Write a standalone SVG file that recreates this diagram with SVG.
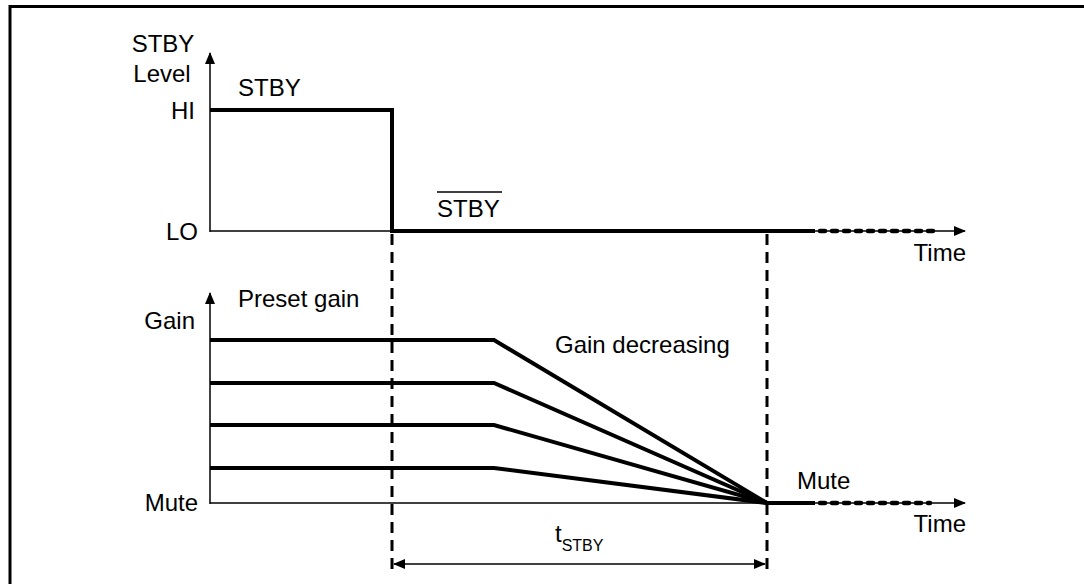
<svg xmlns="http://www.w3.org/2000/svg" width="1084" height="584" viewBox="0 0 1084 584">
<defs>
<style>
text{font-family:"Liberation Sans",Arial,sans-serif;font-size:24px;fill:#000}
.sub{font-size:16px}
.axis{stroke:#000;stroke-width:1.5;fill:none}
.sig{stroke:#000;stroke-width:4;fill:none;stroke-linejoin:miter}
.dot{stroke:#000;stroke-width:4.5;fill:none;stroke-dasharray:5 7;stroke-linecap:round}
.dash{stroke:#000;stroke-width:3;fill:none;stroke-dasharray:11 7}
.frame{stroke:#000;stroke-width:3;fill:none}
</style>
<marker id="ah" markerWidth="12" markerHeight="10" refX="11" refY="5" orient="auto" markerUnits="userSpaceOnUse">
<path d="M0,0 L12,5 L0,10 Z" fill="#000"/>
</marker>
<marker id="ahs" markerWidth="12" markerHeight="10" refX="11" refY="5" orient="auto-start-reverse" markerUnits="userSpaceOnUse">
<path d="M0,0 L12,5 L0,10 Z" fill="#000"/>
</marker>
</defs>
<rect width="1084" height="584" fill="#fff"/>
<path class="frame" d="M10,584 L10,6.5 L1084,6.5"/>

<g id="connectors">
<line class="axis" x1="210" y1="232" x2="210" y2="53" marker-end="url(#ah)"/>
<line class="axis" x1="210" y1="231" x2="965" y2="231" marker-end="url(#ah)"/>
<line class="axis" x1="210" y1="504" x2="210" y2="293" marker-end="url(#ah)"/>
<line class="axis" x1="210" y1="503" x2="965" y2="503" marker-end="url(#ah)"/>
<line class="dash" x1="392" y1="234" x2="392" y2="572"/>
<line class="dash" x1="767" y1="234" x2="767" y2="572"/>
<line class="axis" x1="394" y1="564" x2="765" y2="564" marker-start="url(#ahs)" marker-end="url(#ahs)"/>
</g>

<g id="stby-signal">
<path class="sig" d="M210,110 L392,110 L392,231 L815,231"/>
<line class="dot" x1="820" y1="231" x2="934" y2="231"/>
</g>

<g id="gain-signals">
<path class="sig" d="M210,340 L494,340 L767,503"/>
<path class="sig" d="M210,383 L494,383 L767,503"/>
<path class="sig" d="M210,425 L494,425 L767,503"/>
<path class="sig" d="M210,468 L494,468 L767,503"/>
<line class="sig" x1="767" y1="503" x2="815" y2="503"/>
<line class="dot" x1="820" y1="503" x2="930" y2="503"/>
</g>

<g id="labels">
<text x="163" y="52" text-anchor="middle">STBY</text>
<text x="162" y="82" text-anchor="middle">Level</text>
<text x="238" y="96">STBY</text>
<text x="195" y="119" text-anchor="end">HI</text>
<text x="198" y="240" text-anchor="end">LO</text>
<text x="437" y="217">STBY</text>
<line x1="437" y1="192" x2="502" y2="192" stroke="#000" stroke-width="1.5"/>
<text x="966" y="261" text-anchor="end">Time</text>
<text x="238" y="307">Preset gain</text>
<text x="195" y="329" text-anchor="end">Gain</text>
<text x="555" y="353">Gain decreasing</text>
<text x="198" y="511" text-anchor="end">Mute</text>
<text x="797" y="489">Mute</text>
<text x="966" y="532" text-anchor="end">Time</text>
<text x="555" y="542">t<tspan class="sub" dy="9">STBY</tspan></text>
</g>
</svg>
